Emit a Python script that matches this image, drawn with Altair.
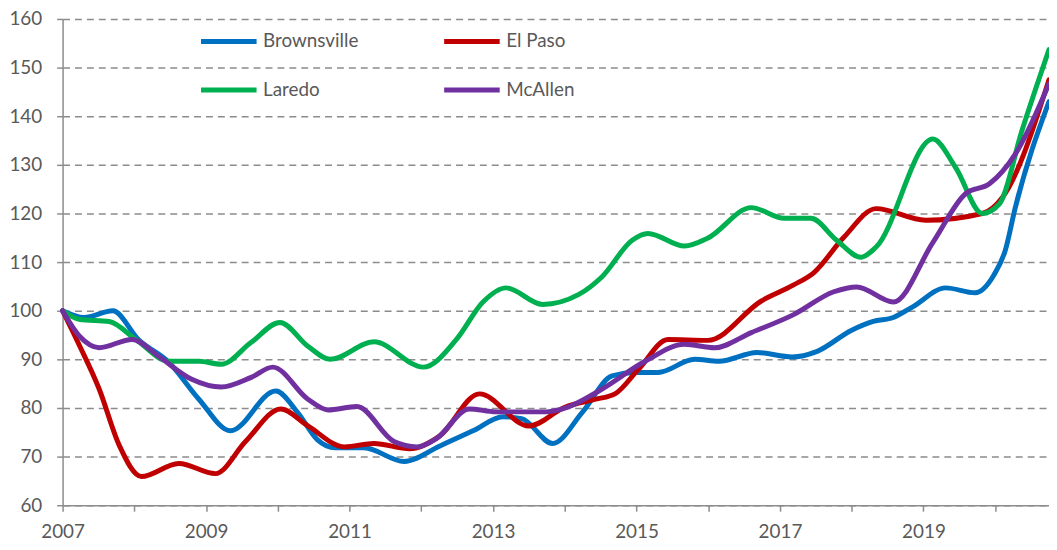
import altair as alt
import pandas as pd

series_names = ["Brownsville", "El Paso", "Laredo", "McAllen"]
series_colors = ["#0070C0", "#C00000", "#00B050", "#7030A0"]

brownsville_x = [2007.0, 2007.3, 2007.7, 2008.06, 2008.48, 2008.9, 2009.34, 2009.97, 2010.28, 2010.55,
                 2010.8, 2011.2, 2011.76, 2012.26, 2012.72, 2013.14, 2013.4, 2013.83, 2014.25, 2014.66,
                 2015.0, 2015.3, 2015.81, 2016.15, 2016.68, 2017.17, 2017.51, 2018.0, 2018.3, 2018.58,
                 2018.85, 2019.31, 2019.72, 2019.98, 2020.14, 2020.28, 2020.75]
brownsville_y = [100, 98.6, 100, 94, 89.4, 81.8, 75.3, 83.5, 79, 73.5,
                 71.8, 71.8, 69, 72.2, 75.3, 78.2, 77.8, 72.7, 79.2, 86.6,
                 87.3, 87.3, 90, 89.6, 91.4, 90.5, 91.6, 96, 97.8, 98.6,
                 100.8, 104.7, 103.7, 107.3, 112.4, 121.2, 143]

elpaso_x = [2007.0, 2007.24, 2007.51, 2007.79, 2008.1, 2008.62, 2009.13, 2009.55, 2010.04, 2010.42,
            2010.93, 2011.34, 2011.84, 2012.26, 2012.81, 2013.5, 2014.01, 2014.43, 2014.7, 2015.03,
            2015.44, 2015.99, 2016.74, 2017.19, 2017.47, 2017.89, 2018.34, 2019.03, 2019.82, 2020.1,
            2020.75]
elpaso_y = [100, 92.7, 83.9, 72.3, 65.9, 68.6, 66.5, 73.1, 79.8, 76.3,
            72, 72.7, 71.6, 74.3, 82.9, 76.3, 80.2, 81.8, 82.9, 88,
            94.1, 93.9, 102, 105.3, 107.8, 115.1, 121, 118.6, 120, 123.3,
            147.5]

laredo_x = [2007.0, 2007.24, 2007.65, 2008.02, 2008.48, 2008.9, 2009.21, 2009.63, 2010.03, 2010.42,
            2010.73, 2011.34, 2012.03, 2012.49, 2012.86, 2013.18, 2013.69, 2014.19, 2014.52, 2014.94,
            2015.16, 2015.67, 2015.99, 2016.6, 2017.06, 2017.43, 2017.79, 2018.13, 2018.34, 2019.13,
            2019.45, 2019.82, 2020.06, 2020.37, 2020.75]
laredo_y = [100, 98.2, 97.8, 94.1, 89.6, 89.6, 89, 93.5, 97.6, 92.7,
            90, 93.6, 88.4, 94.1, 101.8, 104.7, 101.3, 103.3, 107, 114.5,
            115.9, 113.3, 114.9, 121.2, 119, 119, 114.5, 111, 113.1, 135.3,
            129.4, 120, 122, 136.9, 153.7]

mcallen_x = [2007.0, 2007.24, 2007.51, 2007.97, 2008.34, 2008.8, 2009.21, 2009.63, 2009.93, 2010.42,
             2010.7, 2011.1, 2011.62, 2011.94, 2012.21, 2012.67, 2013.04, 2013.74, 2013.97, 2014.52,
             2015.12, 2015.67, 2016.09, 2016.6, 2017.19, 2017.75, 2018.07, 2018.58, 2019.13, 2019.59,
             2019.92, 2020.28, 2020.75]
mcallen_y = [100, 94.7, 92.4, 94.1, 90.6, 85.9, 84.3, 86.3, 88.4, 81.8,
             79.6, 80.3, 73.1, 72, 73.7, 79.8, 79.2, 79.2, 79.8, 83.9,
             89.6, 93.1, 92.4, 95.5, 99.2, 103.9, 104.9, 101.8, 114, 124.1,
             126.1, 132.2, 146.7]

x_ticks = list(range(2007, 2021))
y_ticks = list(range(60, 161, 10))

frames = []
for name, xs, ys in [("Brownsville", brownsville_x, brownsville_y),
                     ("El Paso", elpaso_x, elpaso_y),
                     ("Laredo", laredo_x, laredo_y),
                     ("McAllen", mcallen_x, mcallen_y)]:
    frames.append(pd.DataFrame({"series": name, "year": xs, "value": ys,
                                "order": list(range(len(xs)))}))
df = pd.concat(frames, ignore_index=True)

FONT = "Lato"
TXT = "#595959"
AX = "#8c8c8c"

chart = alt.Chart(df).mark_line(
    interpolate="monotone", strokeWidth=5, strokeCap="round", strokeJoin="round"
).encode(
    x=alt.X("year:Q",
            scale=alt.Scale(domain=[2007, 2020.75], nice=False, zero=False),
            axis=alt.Axis(values=x_ticks, format="d", title=None, grid=False,
                          labelExpr="datum.value % 2 == 1 ? datum.label : ''",
                          labelOverlap=False, labelFlush=False, tickSize=6,
                          labelPadding=12)),
    y=alt.Y("value:Q",
            scale=alt.Scale(domain=[60, 160], nice=False, zero=False),
            axis=alt.Axis(values=y_ticks, title=None, grid=True, tickSize=6,
                          labelPadding=15)),
    color=alt.Color("series:N",
                    scale=alt.Scale(domain=series_names, range=series_colors),
                    legend=alt.Legend(orient="none", legendX=137, legendY=-8,
                                      columns=2, direction="horizontal", title=None,
                                      symbolType="stroke",
                                      symbolSize=3136, symbolStrokeWidth=5,
                                      labelFont=FONT, labelFontSize=19,
                                      labelColor=TXT, labelOffset=4,
                                      columnPadding=75, rowPadding=8,
                                      padding=0)),
    order="order:Q",
).properties(
    width=994, height=490,
    padding={"left": 55, "top": 9, "right": 0, "bottom": 35},
    autosize=alt.AutoSizeParams(type="none"),
    background="white",
).configure_view(
    stroke=None
).configure_axis(
    labelFont=FONT, labelFontSize=19, labelColor=TXT,
    domainColor=AX, domainWidth=1.5, tickColor=AX, tickWidth=1.5,
    gridColor=AX, gridWidth=1.5, gridDash=[7, 5]
)

chart.save("out.html", embed_options={"renderer": "svg", "actions": False})
